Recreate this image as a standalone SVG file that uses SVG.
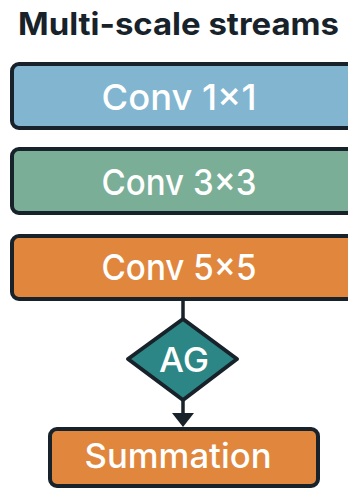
<svg xmlns="http://www.w3.org/2000/svg" width="348" height="490" viewBox="0 0 348 490">
  <style>
    .box { stroke: #18222a; stroke-width: 4; }
    .lbl { font-family: Inter, "Liberation Sans", Arial, sans-serif; font-weight: 500; fill: #ffffff; text-anchor: middle; }
    .title { font-family: Inter, "Liberation Sans", Arial, sans-serif; font-weight: 700; fill: #18222a; }
    .wire { stroke: #18222a; stroke-width: 3.5; fill: none; }
  </style>
  <rect width="348" height="490" fill="#ffffff"/>

  <text class="title" x="18" y="35" font-size="31" textLength="321" lengthAdjust="spacingAndGlyphs">Multi-scale streams</text>

  <g id="connectors">
    <line class="wire" x1="183" y1="300" x2="183" y2="320"/>
    <line class="wire" x1="183" y1="400" x2="183" y2="413"/>
    <path d="M172,413 L194,413 L183,427 Z" fill="#18222a"/>
  </g>

  <g id="conv1x1">
    <rect class="box" x="12" y="64" width="360" height="64" rx="7" fill="#81b5d0"/>
    <text class="lbl" x="179" y="110" font-size="36" textLength="155" lengthAdjust="spacingAndGlyphs">Conv 1×1</text>
  </g>

  <g id="conv3x3">
    <rect class="box" x="12" y="149" width="360" height="64" rx="7" fill="#7aae96"/>
    <text class="lbl" x="179" y="195" font-size="36" textLength="155" lengthAdjust="spacingAndGlyphs">Conv 3×3</text>
  </g>

  <g id="conv5x5">
    <rect class="box" x="12" y="236" width="360" height="63" rx="7" fill="#e0873d"/>
    <text class="lbl" x="179" y="280" font-size="36" textLength="155" lengthAdjust="spacingAndGlyphs">Conv 5×5</text>
  </g>

  <g id="ag">
    <path class="box" d="M183,319 L237,359 L183,400 L128,359 Z" stroke-linejoin="round" fill="#2c8685"/>
    <text class="lbl" x="184" y="372" font-size="34" font-weight="700" textLength="50" lengthAdjust="spacingAndGlyphs">AG</text>
  </g>

  <g id="summation">
    <rect class="box" x="50" y="429" width="268" height="57" rx="7" fill="#e0873d"/>
    <text class="lbl" x="178" y="468" font-size="34" textLength="187" lengthAdjust="spacingAndGlyphs">Summation</text>
  </g>
</svg>
